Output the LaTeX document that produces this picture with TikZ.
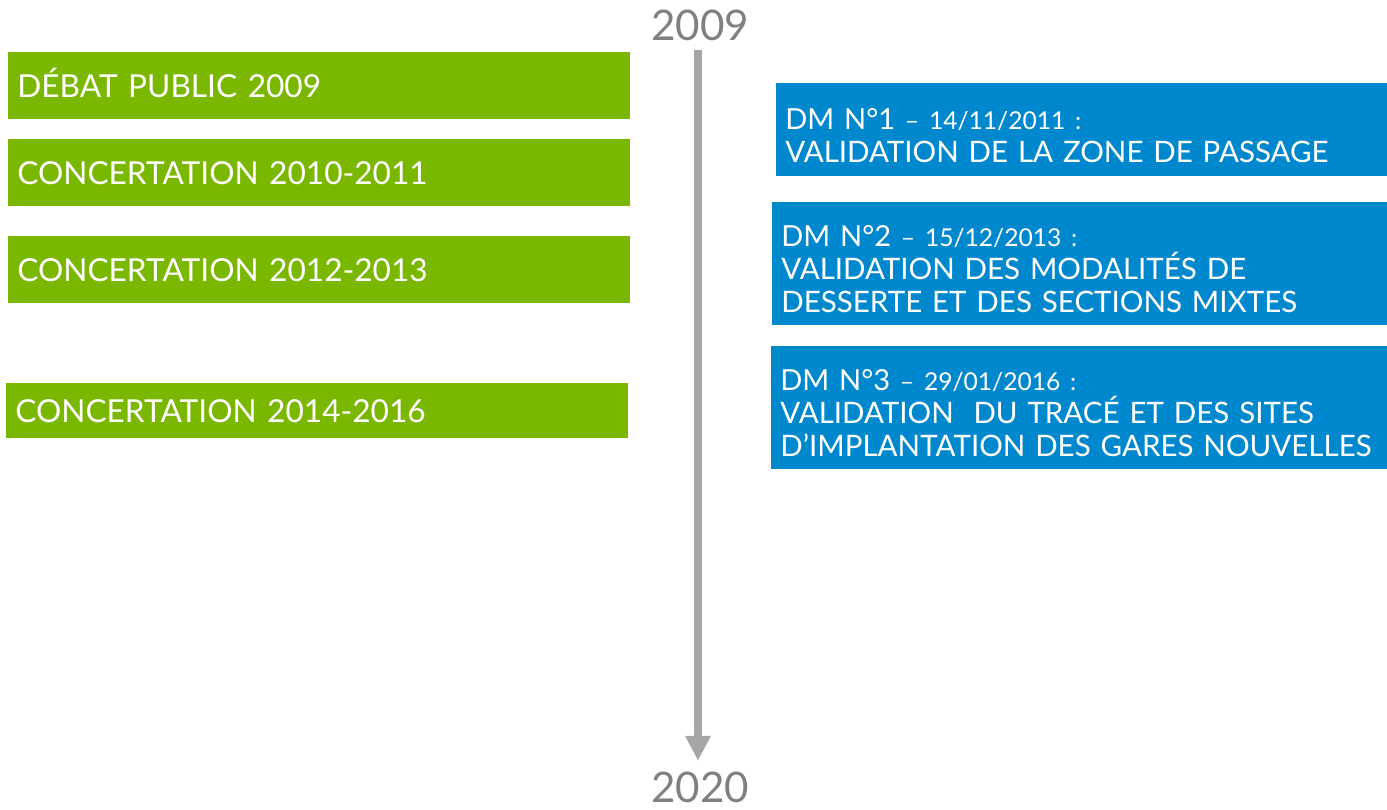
\documentclass[tikz,border=0pt]{standalone}
\usepackage{fontspec}
\setmainfont{Lato}
\usepackage{tikz}
\usetikzlibrary{arrows.meta}

\definecolor{vert}{HTML}{7AB800}
\definecolor{bleu}{HTML}{0088CE}
\definecolor{fleche}{HTML}{A6A6A6}
\definecolor{annee}{HTML}{808080}

\tikzset{
  etape/.style = {anchor = north west, text = white, align = left, inner ysep = 0pt, inner xsep = 0.18cm},
  verte/.style = {etape, fill = vert, text width = 12.08cm, minimum height = 1.34cm, text height = 12.9pt, text depth = 0pt, font = \fontsize{18}{20}\selectfont},
  bleue/.style = {etape, fill = bleu, minimum height = 2.46cm, text height = 18pt, font = \fontsize{16.8}{18.8}\selectfont, execute at begin node = {\hyphenpenalty=10000\relax}},
  annee/.style = {text = annee, font = \fontsize{24}{28}\selectfont, inner sep = 0pt, anchor = base, text height = 17pt, text depth = 0pt}
}
\newcommand{\dm}[2]{{\fontsize{16.5}{18.8}\selectfont DM N°#1} {\fontsize{14}{18.8}\selectfont -- #2 :}}

\begin{document}
\begin{tikzpicture}[x = 0.02cm, y = -0.02cm]
\useasboundingbox (0,0) rectangle (1387,809);

% axe du temps
\node[annee] (debut) at (700,40) {2009};
\node[annee] (fin) at (700,802) {2020};
\draw[line width = 0.16cm, fleche, -{Triangle[width = 0.48cm, length = 0.5cm]}, shorten < = 0.2cm, shorten > = 0.22cm] (debut.south -| 698,0) -- (fin.north -| 698,0);

% concertations
\node[verte] (debat) at (8,52) {DÉBAT PUBLIC 2009};
\node[verte] (conc1) at (8,139) {CONCERTATION 2010-2011};
\node[verte] (conc2) at (8,236) {CONCERTATION 2012-2013};
\node[verte, minimum height = 1.1cm] (conc3) at (6,383) {CONCERTATION 2014-2016};

% decisions ministerielles
\node[bleue, text width = 11.86cm, minimum height = 1.86cm] (dm1) at (776,83) {\dm{1}{14/11/2011}\\VALIDATION DE LA ZONE DE PASSAGE};
\node[bleue, text width = 11.94cm] (dm2) at (772,202) {\dm{2}{15/12/2013}\\VALIDATION DES MODALITÉS DE\\DESSERTE ET DES SECTIONS MIXTES};
\node[bleue, text width = 11.96cm] (dm3) at (771,346) {\dm{3}{29/01/2016}\\VALIDATION\ \ DU TRACÉ ET DES SITES\\D’IMPLANTATION DES GARES NOUVELLES};
\end{tikzpicture}
\end{document}
